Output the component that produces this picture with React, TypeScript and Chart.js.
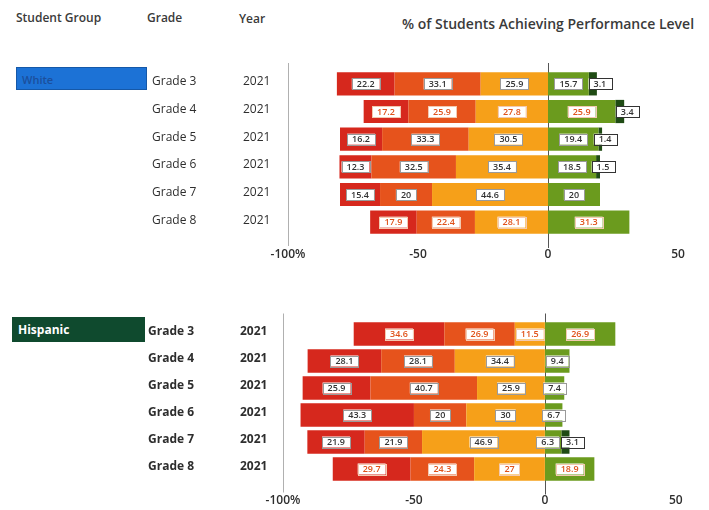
import React, { useEffect, useRef } from "react";
import { Chart, registerables } from "chart.js";
Chart.register(...registerables);

// ---- data ----
const grades = ["Grade 3", "Grade 4", "Grade 5", "Grade 6", "Grade 7", "Grade 8"];
const years = ["2021", "2021", "2021", "2021", "2021", "2021"];
const levelNames = ["Level 1", "Level 2", "Level 3", "Level 4", "Level 5"];

const whiteL1 = [22.2, 17.2, 16.2, 12.3, 15.4, 17.9];
const whiteL2 = [33.1, 25.9, 33.3, 32.5, 20, 22.4];
const whiteL3 = [25.9, 27.8, 30.5, 35.4, 44.6, 28.1];
const whiteL4 = [15.7, 25.9, 19.4, 18.5, 20, 31.3];
const whiteL5 = [3.1, 3.4, 1.4, 1.5, null, null];
const whiteAccent = [false, true, false, false, false, true];

const hispL1 = [34.6, 28.1, 25.9, 43.3, 21.9, 29.7];
const hispL2 = [26.9, 28.1, 40.7, 20, 21.9, 24.3];
const hispL3 = [11.5, 34.4, 25.9, 30, 46.9, 27];
const hispL4 = [26.9, 9.4, 7.4, 6.7, 6.3, 18.9];
const hispL5 = [null, null, null, null, 3.1, null];
const hispAccent = [true, false, false, false, false, true];

const tickValues = [-100, -50, 0, 50];
const tickLabels = ["-100%", "-50", "0", "50"];

const levelColors = ["#d6281d", "#e6531c", "#f6a019", "#6b9b1e", "#1f4b14"];
const FONT = "'Open Sans', 'DejaVu Sans', sans-serif";

type Geo = {
  canvasTop: number;
  canvasHeight: number;
  areaTop: number;
  areaBottom: number;
  areaLeft: number;
  areaRight: number;
  barPct: number;
  gradeX: number;
  yearX: number;
  labelWeight: string;
};

function GroupChart(props: {
  l1: number[]; l2: number[]; l3: number[]; l4: number[]; l5: (number | null)[];
  accent: boolean[]; geo: Geo;
}) {
  const ref = useRef<HTMLCanvasElement | null>(null);
  useEffect(() => {
    const { l1, l2, l3, l4, l5, accent, geo } = props;
    const raw = [l3, l2, l1, l4, l5];
    const levelIdx = [2, 1, 0, 3, 4];
    const datasets = raw.map((arr, k) => ({
      label: levelNames[levelIdx[k]],
      data: arr.map((v) => (v == null ? null : k < 3 ? -v : v)),
      backgroundColor: levelColors[levelIdx[k]],
      borderWidth: 0,
      categoryPercentage: 1,
      barPercentage: geo.barPct,
    }));

    const refLines = {
      id: "refLines",
      beforeDatasetsDraw(chart: any) {
        const ctx = chart.ctx;
        const xs = chart.scales.x;
        const a = chart.chartArea;
        ctx.save();
        ctx.lineWidth = 1;
        const x0 = Math.round(xs.getPixelForValue(0)) + 0.5;
        const xl = Math.round(xs.getPixelForValue(-100)) + 0.5;
        ctx.strokeStyle = "#b0b0b0";
        ctx.beginPath();
        ctx.moveTo(xl, a.top - 7);
        ctx.lineTo(xl, a.bottom + 10);
        ctx.stroke();
        ctx.strokeStyle = "#555555";
        ctx.beginPath();
        ctx.moveTo(x0, a.top - 7);
        ctx.lineTo(x0, a.bottom + 12);
        ctx.stroke();
        ctx.restore();
      },
    };

    const rowLabels = {
      id: "rowLabels",
      afterDraw(chart: any) {
        const ctx = chart.ctx;
        const ys = chart.scales.y;
        ctx.save();
        ctx.font = `${geo.labelWeight} 12px ${FONT}`;
        ctx.fillStyle = "#2e2e2e";
        ctx.textBaseline = "middle";
        ctx.textAlign = "left";
        grades.forEach((g, i) => {
          const y = ys.getPixelForValue(i) - 2;
          ctx.fillText(g, geo.gradeX, y);
          ctx.fillText(years[i], geo.yearX, y);
        });
        ctx.restore();
      },
    };

    const segLabels = {
      id: "segLabels",
      afterDatasetsDraw(chart: any) {
        const ctx = chart.ctx;
        ctx.save();
        ctx.font = `600 9px ${FONT}`;
        ctx.textBaseline = "middle";
        ctx.textAlign = "center";
        const n = grades.length;
        for (let i = 0; i < n; i++) {
          let l5Left = Infinity;
          const boxes: any[] = [];
          const order = [4, 0, 1, 2, 3];
          order.forEach((k) => {
            const v = raw[k][i];
            if (v == null) return;
            const el = chart.getDatasetMeta(k).data[i];
            const p = el.getProps(["x", "base", "y"], true);
            const txt = String(v);
            const w = ctx.measureText(txt).width + 10;
            const h = 11;
            let cx = (p.x + p.base) / 2;
            if (k === 4) {
              cx = p.x + 3;
              l5Left = cx - w / 2;
            } else if (k === 3 && cx + w / 2 > l5Left - 2) {
              cx = l5Left - 2 - w / 2;
            }
            boxes.push({ k, cx, cy: p.y, w, h, txt });
          });
          boxes.forEach((b) => {
            const acc = accent[i] && b.k !== 4;
            ctx.fillStyle = "#ffffff";
            ctx.fillRect(b.cx - b.w / 2, b.cy - b.h / 2, b.w, b.h);
            ctx.lineWidth = 1;
            ctx.strokeStyle = b.k === 4 ? "#333333" : acc ? "#f3c9b0" : "#9a9a9a";
            ctx.strokeRect(Math.round(b.cx - b.w / 2) + 0.5, Math.round(b.cy - b.h / 2) + 0.5, Math.round(b.w), b.h);
            ctx.fillStyle = acc ? "#e0521a" : "#333333";
            ctx.fillText(b.txt, b.cx, b.cy + 0.5);
          });
        }
        ctx.restore();
      },
    };

    const xAxisHeight = geo.canvasHeight - geo.areaBottom;
    const chart = new Chart(ref.current as HTMLCanvasElement, {
      type: "bar",
      data: { labels: grades, datasets: datasets as any },
      options: {
        indexAxis: "y",
        animation: false,
        responsive: false,
        devicePixelRatio: 1,
        layout: {
          padding: { left: geo.areaLeft, right: 709 - geo.areaRight, top: geo.areaTop, bottom: 0 },
        },
        plugins: { legend: { display: false }, tooltip: { enabled: false } },
        scales: {
          y: { type: "category", stacked: true, display: false },
          x: {
            type: "linear",
            stacked: true,
            min: -100,
            max: 60,
            afterBuildTicks(scale: any) {
              scale.ticks = tickValues.map((v) => ({ value: v }));
            },
            afterFit(scale: any) {
              scale.height = xAxisHeight;
            },
            border: { display: false },
            grid: { display: false, drawTicks: false },
            ticks: {
              padding: 11,
              color: "#2e2e2e",
              font: { family: FONT, size: 12, weight: "600" as any },
              callback: (v: any) => {
                const idx = tickValues.indexOf(Number(v));
                return idx >= 0 ? tickLabels[idx] : "";
              },
            },
          },
        },
      },
      plugins: [refLines, rowLabels, segLabels],
    });
    return () => chart.destroy();
  }, []);
  const g = props.geo;
  return (
    <canvas
      ref={ref}
      width={709}
      height={g.canvasHeight}
      style={{ position: "absolute", left: 0, top: g.canvasTop, width: 709, height: g.canvasHeight }}
    />
  );
}

const topGeo: Geo = {
  canvasTop: 0, canvasHeight: 270, areaTop: 70, areaBottom: 236,
  areaLeft: 288, areaRight: 704, barPct: 0.84, gradeX: 152, yearX: 243, labelWeight: "500",
};
const bottomGeo: Geo = {
  canvasTop: 300, canvasHeight: 210, areaTop: 20.5, areaBottom: 182.5,
  areaLeft: 283, areaRight: 702, barPct: 0.87, gradeX: 148, yearX: 240, labelWeight: "700",
};

export default function App() {
  const head: React.CSSProperties = {
    position: "absolute", fontFamily: FONT, fontWeight: 600, color: "#3a3a3a", fontSize: 12, whiteSpace: "nowrap",
  };
  return (
    <div style={{ position: "fixed", left: 0, top: 0, width: 709, height: 510, background: "#ffffff", overflow: "hidden" }}>
      <div style={{ ...head, left: 16, top: 9 }}>Student Group</div>
      <div style={{ ...head, left: 147, top: 9 }}>Grade</div>
      <div style={{ ...head, left: 239, top: 10 }}>Year</div>
      <div style={{ ...head, left: 402, top: 14, fontSize: 14 }}>% of Students Achieving Performance Level</div>
      <div style={{ position: "absolute", left: 16, top: 67, width: 131, height: 23, background: "#1c72d6", boxSizing: "border-box", border: "1px solid #1558a8" }}>
        <span style={{ position: "absolute", left: 5, top: 4, fontFamily: FONT, fontSize: 11, color: "#1b4f9c", fontWeight: 600 }}>White</span>
      </div>
      <div style={{ position: "absolute", left: 12, top: 317, width: 133, height: 25, background: "#0f4a2e" }}>
        <span style={{ position: "absolute", left: 6, top: 4, fontFamily: FONT, fontSize: 12, color: "#ffffff", fontWeight: 700 }}>Hispanic</span>
      </div>
      <GroupChart l1={whiteL1} l2={whiteL2} l3={whiteL3} l4={whiteL4} l5={whiteL5} accent={whiteAccent} geo={topGeo} />
      <GroupChart l1={hispL1} l2={hispL2} l3={hispL3} l4={hispL4} l5={hispL5} accent={hispAccent} geo={bottomGeo} />
    </div>
  );
}
